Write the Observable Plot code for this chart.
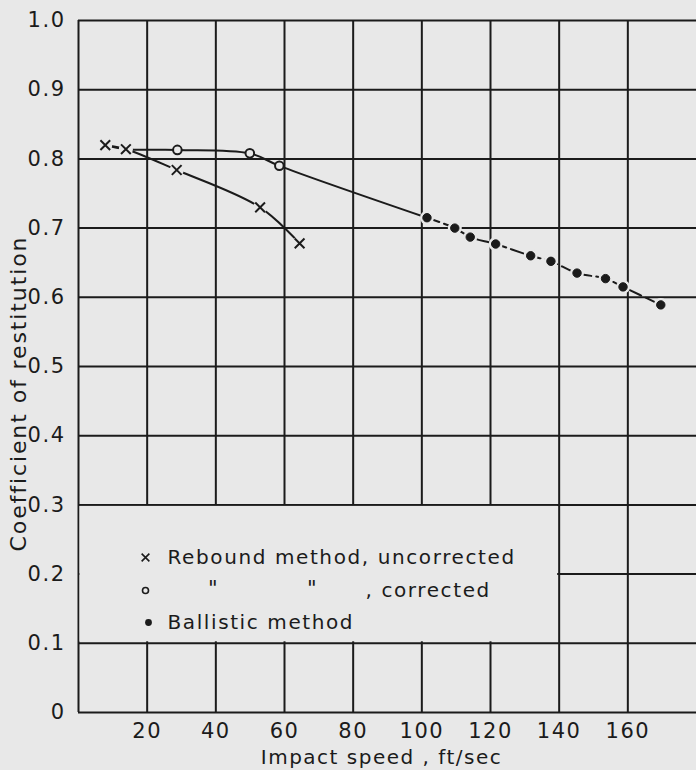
<!DOCTYPE html>
<html>
<head>
<meta charset="utf-8">
<script src="https://cdn.jsdelivr.net/npm/d3@7"></script>
<script src="https://cdn.jsdelivr.net/npm/@observablehq/plot@0.6"></script>
<style>
  html, body { margin: 0; padding: 0; background: #e8e8e8; }
  #chart { width: 696px; height: 770px; overflow: hidden; }
</style>
</head>
<body>
<div id="chart"></div>
<script>
// ---- Data ----
const uncorrectedSpeed = [7.8, 13.8, 28.6, 52.9, 64.4];
const uncorrectedCoef  = [0.820, 0.814, 0.784, 0.730, 0.678];

const correctedSpeed = [28.8, 49.9, 58.5];
const correctedCoef  = [0.813, 0.808, 0.790];

const ballisticSpeed = [101.5, 109.6, 114.1, 121.5, 131.7, 137.6, 145.2, 153.5, 158.6, 169.6];
const ballisticCoef  = [0.715, 0.700, 0.687, 0.677, 0.660, 0.652, 0.635, 0.627, 0.615, 0.589];

const xTicks = [20, 40, 60, 80, 100, 120, 140, 160];
const yTicks = [0, 0.1, 0.2, 0.3, 0.4, 0.5, 0.6, 0.7, 0.8, 0.9, 1.0];
const yTickLabels = ["0", "0.1", "0.2", "0.3", "0.4", "0.5", "0.6", "0.7", "0.8", "0.9", "1.0"];

const xTitle = "Impact speed , ft/sec";
const yTitle = "Coefficient of restitution";
const legendLabels = ["Rebound method, uncorrected", ", corrected", "Ballistic method"];
const dittoMark = "\"";
// grid cells left blank for the legend (speed 0–140, coefficient 0.1–0.3)
const legendCell = [{x1: 0, x2: 140, y1: 0.1, y2: 0.3}];

// ---- Build tables ----
const uncorrected = uncorrectedSpeed.map((x, i) => ({x, y: uncorrectedCoef[i]}));
const corrected = correctedSpeed.map((x, i) => ({x, y: correctedCoef[i]}));
const ballistic = ballisticSpeed.map((x, i) => ({x, y: ballisticCoef[i]}));
// upper fitted curve: shares the first two rebound points, runs through corrected points to ballistic start
const upperSolid = [uncorrected[0], uncorrected[1], ...corrected, ballistic[0]];

const ink = "#1b1b1b";
const paper = "#e8e8e8";
const font = "DejaVu Sans";

const legendText = {frameAnchor: "top-left", textAnchor: "start", lineAnchor: "middle", fontSize: 20, fill: ink};

const plot = Plot.plot({
  width: 696,
  height: 770,
  marginLeft: 78,
  marginRight: 0,
  marginTop: 20,
  marginBottom: 58,
  style: {background: paper, fontFamily: font, color: ink},
  x: {domain: [0, 180], axis: null},
  y: {domain: [0, 1], axis: null},
  marks: [
    // grid & frame
    Plot.ruleY(yTicks, {x1: 0, x2: 180, stroke: ink, strokeWidth: 2}),
    Plot.ruleX([0, ...xTicks], {y1: 0, y2: 1, stroke: ink, strokeWidth: 2}),
    // blank grid cells behind the legend
    Plot.rect(legendCell, {x1: "x1", x2: "x2", y1: "y1", y2: "y2", fill: paper, inset: 1.5}),
    // axes
    Plot.axisY(yTicks, {tickSize: 0, tickPadding: 13, fontSize: 21, tickFormat: (d) => yTickLabels[yTicks.indexOf(d)], label: null}),
    Plot.axisX(xTicks, {tickSize: 0, tickPadding: 11, fontSize: 21, label: null}),
    Plot.text([xTitle], {frameAnchor: "bottom", lineAnchor: "middle", textAnchor: "middle", dx: -6, dy: 45, fontSize: 20, fill: ink}),
    Plot.text([yTitle], {frameAnchor: "left", lineAnchor: "middle", textAnchor: "middle", rotate: -90, dx: -60, dy: 27, fontSize: 22, fill: ink}),
    // curves
    Plot.line(uncorrected, {x: "x", y: "y", curve: "catmull-rom", stroke: ink, strokeWidth: 2}),
    Plot.line(upperSolid, {x: "x", y: "y", curve: "catmull-rom", stroke: ink, strokeWidth: 2}),
    Plot.line(ballistic, {x: "x", y: "y", curve: "catmull-rom", stroke: ink, strokeWidth: 2, strokeDasharray: "13,5"}),
    // gaps around markers
    Plot.dot([...uncorrected, ...ballistic], {x: "x", y: "y", r: 7, fill: paper, stroke: null}),
    // markers
    Plot.dot(uncorrected, {x: "x", y: "y", symbol: "times", r: 4.5, stroke: ink, strokeWidth: 2}),
    Plot.dot(corrected, {x: "x", y: "y", r: 4.3, fill: paper, stroke: ink, strokeWidth: 2}),
    Plot.dot(ballistic, {x: "x", y: "y", r: 4.2, fill: ink, stroke: ink, strokeWidth: 1}),
    // legend
    Plot.dot([0], {frameAnchor: "top-left", dx: 67, dy: 537, symbol: "times", r: 3.6, stroke: ink, strokeWidth: 1.6}),
    Plot.dot([0], {frameAnchor: "top-left", dx: 67, dy: 570, r: 3, fill: paper, stroke: ink, strokeWidth: 1.6}),
    Plot.dot([0], {frameAnchor: "top-left", dx: 70, dy: 602, r: 3.4, fill: ink}),
    Plot.text([legendLabels[0]], {...legendText, dx: 89, dy: 537}),
    Plot.text([dittoMark], {...legendText, textAnchor: "middle", fontSize: 21, dx: 135, dy: 569}),
    Plot.text([dittoMark], {...legendText, textAnchor: "middle", fontSize: 21, dx: 234, dy: 569}),
    Plot.text([legendLabels[1]], {...legendText, dx: 287, dy: 570}),
    Plot.text([legendLabels[2]], {...legendText, dx: 89, dy: 602})
  ]
});

// letter spacing to mimic the wide lettering
const svg = d3.select(plot);
svg.selectAll("text").style("letter-spacing", "1.5px");
svg.selectAll("text").filter(function() {
  return legendLabels.includes(this.textContent);
}).style("letter-spacing", "1.6px");
svg.selectAll("text").filter(function() { return this.textContent === yTitle; }).style("letter-spacing", "1.9px");
document.getElementById("chart").appendChild(plot);
</script>
</body>
</html>
